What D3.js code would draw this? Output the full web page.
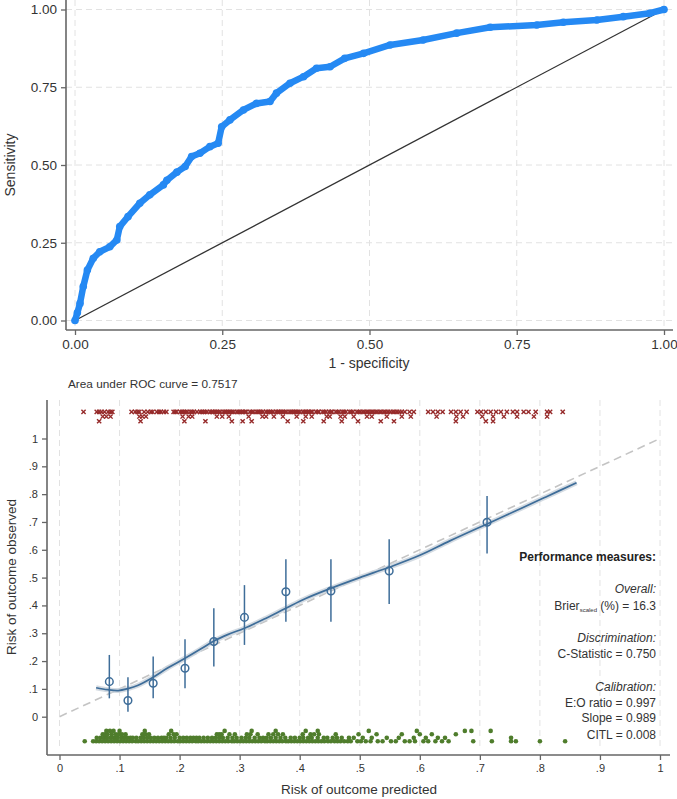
<!DOCTYPE html>
<html><head><meta charset="utf-8">
<script src="https://cdn.jsdelivr.net/npm/d3@7"></script>
<style>
body{margin:0;background:#fff;}
svg{display:block;font-family:"Liberation Sans",Arial,Helvetica,sans-serif;}
</style></head>
<body>
<svg id="c" width="677" height="799"></svg>
<script>
// ---------- DATA ----------
const rocTicks = [0, 0.25, 0.5, 0.75, 1];
const rocFpr = [0,0.004,0.0085,0.014,0.021,0.031,0.042,0.059,0.071,0.076,0.09,0.11,0.127,0.15,0.156,0.173,0.187,0.198,0.212,0.229,0.243,0.249,0.263,0.286,0.308,0.331,0.342,0.365,0.388,0.41,0.433,0.458,0.49,0.535,0.591,0.648,0.705,0.784,0.829,0.886,0.931,0.976,1];
const rocTpr = [0,0.025,0.055,0.109,0.162,0.2,0.221,0.237,0.259,0.302,0.334,0.377,0.404,0.436,0.451,0.477,0.495,0.527,0.538,0.559,0.57,0.623,0.645,0.677,0.698,0.704,0.731,0.763,0.784,0.811,0.816,0.843,0.859,0.886,0.902,0.924,0.943,0.95,0.959,0.966,0.977,0.988,1];
const aucLabel = "Area under ROC curve = 0.7517";

const calTicks = [0,0.1,0.2,0.3,0.4,0.5,0.6,0.7,0.8,0.9,1];
// grouped observed vs predicted with 95% CI
const grpPred = [0.083,0.114,0.156,0.209,0.257,0.308,0.377,0.452,0.549,0.712];
const grpObs  = [0.126,0.058,0.12,0.174,0.27,0.357,0.449,0.452,0.524,0.699];
const grpLo   = [0.066,0.018,0.066,0.102,0.18,0.258,0.341,0.341,0.405,0.587];
const grpHi   = [0.222,0.142,0.216,0.278,0.39,0.473,0.566,0.566,0.638,0.793];
// lowess smoother
const lowX = [0.061,0.08,0.098,0.114,0.13,0.156,0.18,0.209,0.235,0.257,0.28,0.308,0.34,0.377,0.41,0.45,0.5,0.55,0.6,0.65,0.712,0.76,0.81,0.861];
const lowY = [0.104,0.097,0.094,0.101,0.112,0.142,0.175,0.21,0.243,0.272,0.295,0.318,0.35,0.39,0.425,0.46,0.5,0.538,0.58,0.632,0.693,0.74,0.79,0.841];
// events (outcome = 1) predicted risk, by jitter row
const eventsRowA = [0.040,0.062,0.066,0.070,0.075,0.081,0.085,0.088,0.120,0.126,0.130,0.133,0.141,0.147,0.152,0.155,0.162,0.166,0.169,0.174,0.178,0.190,0.193,0.195,0.201,0.204,0.207,0.210,0.213,0.218,0.221,0.224,0.229,0.234,0.237,0.240,0.243,0.246,0.251,0.254,0.256,0.259,0.262,0.265,0.268,0.273,0.276,0.278,0.281,0.284,0.287,0.290,0.295,0.298,0.300,0.303,0.306,0.309,0.311,0.317,0.320,0.323,0.328,0.331,0.333,0.336,0.339,0.344,0.347,0.350,0.353,0.356,0.361,0.364,0.366,0.369,0.372,0.375,0.378,0.383,0.386,0.388,0.391,0.394,0.397,0.400,0.405,0.408,0.410,0.413,0.416,0.419,0.421,0.427,0.430,0.432,0.438,0.441,0.444,0.449,0.452,0.454,0.460,0.463,0.466,0.471,0.474,0.477,0.483,0.486,0.489,0.495,0.498,0.501,0.505,0.508,0.512,0.515,0.519,0.522,0.526,0.529,0.533,0.536,0.540,0.543,0.547,0.551,0.555,0.558,0.562,0.566,0.570,0.575,0.583,0.590,0.614,0.622,0.630,0.638,0.652,0.660,0.668,0.678,0.696,0.702,0.710,0.718,0.727,0.735,0.745,0.755,0.762,0.773,0.781,0.793,0.812,0.817,0.838];
const eventsRowB = [0.072,0.078,0.085,0.133,0.138,0.144,0.205,0.215,0.221,0.262,0.271,0.282,0.315,0.338,0.344,0.357,0.372,0.395,0.410,0.420,0.445,0.450,0.468,0.475,0.490,0.512,0.520,0.545,0.570,0.585,0.628,0.661,0.672,0.704,0.722,0.740,0.762,0.790,0.812];
const eventsRowC = [0.066,0.135,0.208,0.243,0.287,0.305,0.320,0.380,0.406,0.440,0.470,0.497,0.535,0.557,0.660,0.710,0.722];
const eventsRowY = [1.096,1.079,1.062];
// non-events (outcome = 0) predicted risk, by jitter row
const nonRowA = [0.042,0.056,0.061,0.066,0.071,0.076,0.081,0.086,0.091,0.096,0.101,0.106,0.111,0.116,0.121,0.127,0.131,0.136,0.141,0.146,0.151,0.156,0.161,0.166,0.171,0.176,0.181,0.186,0.191,0.197,0.201,0.206,0.211,0.216,0.221,0.227,0.231,0.236,0.241,0.246,0.251,0.256,0.261,0.266,0.271,0.276,0.281,0.287,0.291,0.296,0.301,0.306,0.311,0.316,0.321,0.326,0.331,0.336,0.342,0.346,0.351,0.356,0.361,0.366,0.371,0.377,0.381,0.386,0.391,0.396,0.401,0.406,0.411,0.416,0.421,0.426,0.431,0.436,0.441,0.447,0.452,0.458,0.463,0.468,0.474,0.480,0.485,0.496,0.502,0.510,0.518,0.530,0.538,0.552,0.560,0.575,0.583,0.592,0.606,0.614,0.626,0.637,0.648,0.689,0.720,0.752,0.760,0.800,0.842];
const nonRowB = [0.062,0.068,0.074,0.079,0.085,0.090,0.094,0.097,0.103,0.108,0.113,0.118,0.122,0.128,0.135,0.140,0.146,0.152,0.158,0.164,0.170,0.174,0.178,0.185,0.192,0.200,0.206,0.212,0.218,0.223,0.228,0.233,0.240,0.247,0.254,0.260,0.266,0.272,0.280,0.288,0.295,0.303,0.310,0.316,0.325,0.333,0.339,0.345,0.352,0.360,0.368,0.376,0.385,0.392,0.400,0.406,0.414,0.420,0.430,0.440,0.446,0.455,0.462,0.470,0.482,0.490,0.505,0.520,0.545,0.565,0.590,0.610,0.630,0.642,0.752];
const nonRowC = [0.072,0.076,0.080,0.087,0.094,0.099,0.104,0.110,0.138,0.143,0.149,0.182,0.190,0.195,0.262,0.266,0.270,0.283,0.292,0.312,0.318,0.330,0.348,0.356,0.364,0.372,0.405,0.418,0.424,0.432,0.460,0.498,0.528,0.570,0.600,0.620,0.660];
const nonRowD = [0.078,0.084,0.090,0.100,0.142,0.186,0.275,0.320,0.360,0.410,0.430,0.515,0.595,0.675,0.686,0.718];
const nonRowY = [-0.088,-0.076,-0.063,-0.051];

const perfTitle = "Performance measures:";
const perfLines = [
  {t:"Overall:", it:true},
  {t:"BRIER", it:false},
  {t:"Discrimination:", it:true},
  {t:"C-Statistic = 0.750", it:false},
  {t:"Calibration:", it:true},
  {t:"E:O ratio = 0.997", it:false},
  {t:"Slope = 0.989", it:false},
  {t:"CITL = 0.008", it:false}
];
const brierValue = "16.3";

// ---------- DRAW ----------
const svg = d3.select("#c");
const axisCol = "#666", txtCol = "#333", gridCol = "#e2e2e2";

// ===== TOP: ROC =====
const xT = d3.scaleLinear().domain([0,1]).range([75,664]);
const yT = d3.scaleLinear().domain([0,1]).range([320.5,9.5]);
const gTop = svg.append("g");
gTop.selectAll(".hg").data(rocTicks).join("line")
  .attr("x1",66).attr("x2",673).attr("y1",d=>yT(d)).attr("y2",d=>yT(d))
  .attr("stroke",gridCol).attr("stroke-width",1).attr("stroke-dasharray","6,4");
gTop.selectAll(".vg").data(rocTicks).join("line")
  .attr("y1",0).attr("y2",330).attr("x1",d=>xT(d)).attr("x2",d=>xT(d))
  .attr("stroke",gridCol).attr("stroke-width",1).attr("stroke-dasharray","6,4");
const fmt2 = d3.format(".2f");
const yAxT = gTop.append("g").attr("transform","translate(66,0)")
  .call(d3.axisLeft(yT).tickValues(rocTicks).tickFormat(fmt2).tickSize(5).tickPadding(4));
const xAxT = gTop.append("g").attr("transform","translate(0,330)")
  .call(d3.axisBottom(xT).tickValues(rocTicks).tickFormat(fmt2).tickSize(5).tickPadding(4));
[yAxT,xAxT].forEach(a=>{
  a.select(".domain").remove();
  a.selectAll("line").attr("stroke",axisCol).attr("stroke-width",1.3);
  a.selectAll("text").attr("fill",txtCol).style("font-size","13.5px");
});
gTop.append("line").attr("x1",66).attr("x2",66).attr("y1",0).attr("y2",330).attr("stroke",axisCol).attr("stroke-width",1.6);
gTop.append("line").attr("x1",66).attr("x2",673).attr("y1",330).attr("y2",330).attr("stroke",axisCol).attr("stroke-width",1.6);
gTop.append("line").attr("x1",xT(0)).attr("y1",yT(0)).attr("x2",xT(1)).attr("y2",yT(1))
  .attr("stroke","#333").attr("stroke-width",1.3);
const rocPts = rocFpr.map((f,i)=>[f,rocTpr[i]]);
gTop.append("path").datum(rocPts)
  .attr("d",d3.line().x(d=>xT(d[0])).y(d=>yT(d[1])))
  .attr("fill","none").attr("stroke","#2589f3").attr("stroke-width",6.5)
  .attr("stroke-linejoin","round").attr("stroke-linecap","round");
gTop.selectAll(".rp").data(rocPts).join("circle")
  .attr("cx",d=>xT(d[0])).attr("cy",d=>yT(d[1])).attr("r",3.8).attr("fill","#2589f3");
gTop.append("text").attr("x",369).attr("y",368).attr("text-anchor","middle")
  .attr("fill",txtCol).style("font-size","14px").text("1 - specificity");
gTop.append("text").attr("transform","translate(15,165) rotate(-90)").attr("text-anchor","middle")
  .attr("fill",txtCol).style("font-size","14px").text("Sensitivity");
svg.append("text").attr("x",68).attr("y",388).attr("fill",txtCol).style("font-size","11.8px").text(aucLabel);

// ===== BOTTOM: calibration =====
const xB = d3.scaleLinear().domain([0,1]).range([59.5,660]);
const yB = d3.scaleLinear().domain([0,1]).range([716.7,438.5]);
const gBot = svg.append("g");
gBot.selectAll(".vg").data(calTicks).join("line")
  .attr("y1",400).attr("y2",750).attr("x1",d=>xB(d)).attr("x2",d=>xB(d))
  .attr("stroke",gridCol).attr("stroke-width",1).attr("stroke-dasharray","6,4");
const fmtB = d=> d===0?"0":(d===1?"1":d3.format(".1f")(d).replace(/^0/,""));
const yAxB = gBot.append("g").attr("transform","translate(47,0)")
  .call(d3.axisLeft(yB).tickValues(calTicks).tickFormat(fmtB).tickSize(5).tickPadding(4));
const xAxB = gBot.append("g").attr("transform","translate(0,755)")
  .call(d3.axisBottom(xB).tickValues(calTicks).tickFormat(fmtB).tickSize(5).tickPadding(4));
[yAxB,xAxB].forEach(a=>{
  a.select(".domain").remove();
  a.selectAll("line").attr("stroke",axisCol).attr("stroke-width",1.3);
  a.selectAll("text").attr("fill",txtCol).style("font-size","11px");
});
gBot.append("line").attr("x1",47).attr("x2",47).attr("y1",400).attr("y2",755).attr("stroke",axisCol).attr("stroke-width",1.6);
gBot.append("line").attr("x1",47).attr("x2",670).attr("y1",755).attr("y2",755).attr("stroke",axisCol).attr("stroke-width",1.6);
gBot.append("line").attr("x1",xB(0)).attr("y1",yB(0)).attr("x2",xB(1)).attr("y2",yB(1))
  .attr("stroke","#c4c4c4").attr("stroke-width",1.6).attr("stroke-dasharray","8,5");
const lowPts = lowX.map((x,i)=>[x,lowY[i]]);
const lineB = d3.line().x(d=>xB(d[0])).y(d=>yB(d[1])).curve(d3.curveCatmullRom);
gBot.append("path").datum(lowPts).attr("d",lineB).attr("fill","none")
  .attr("stroke","#c9d2db").attr("stroke-width",5).attr("stroke-opacity",0.8);
gBot.append("path").datum(lowPts).attr("d",lineB).attr("fill","none")
  .attr("stroke","#3e6d99").attr("stroke-width",1.7);
const blue = "#3e6d99";
gBot.selectAll(".ci").data(grpPred).join("line")
  .attr("x1",d=>xB(d)).attr("x2",d=>xB(d))
  .attr("y1",(d,i)=>yB(grpLo[i])).attr("y2",(d,i)=>yB(grpHi[i]))
  .attr("stroke",blue).attr("stroke-width",1.5);
gBot.selectAll(".gp").data(grpPred).join("circle")
  .attr("cx",d=>xB(d)).attr("cy",(d,i)=>yB(grpObs[i])).attr("r",3.8)
  .attr("fill","none").attr("stroke",blue).attr("stroke-width",1.5);
const red = "#962a2a";
const evPts = [];
[eventsRowA,eventsRowB,eventsRowC].forEach((row,k)=>row.forEach(x=>evPts.push([x,eventsRowY[k]])));
const s = 2.1;
gBot.selectAll(".ev").data(evPts).join("path")
  .attr("d",d=>{const cx=xB(d[0]),cy=yB(d[1]);return `M${cx-s},${cy-s}L${cx+s},${cy+s}M${cx-s},${cy+s}L${cx+s},${cy-s}`;})
  .attr("stroke",red).attr("stroke-width",1.4).attr("fill","none");
const green = "#4f7d2c";
const nePts = [];
[nonRowA,nonRowB,nonRowC,nonRowD].forEach((row,k)=>row.forEach(x=>nePts.push([x,nonRowY[k]])));
gBot.selectAll(".ne").data(nePts).join("circle")
  .attr("cx",d=>xB(d[0])).attr("cy",d=>yB(d[1])).attr("r",2.3).attr("fill",green);
gBot.append("text").attr("x",359).attr("y",794).attr("text-anchor","middle")
  .attr("fill",txtCol).style("font-size","13.5px").text("Risk of outcome predicted");
gBot.append("text").attr("transform","translate(16,577) rotate(-90)").attr("text-anchor","middle")
  .attr("fill",txtCol).style("font-size","13.5px").text("Risk of outcome observed");
const px = 656;
gBot.append("text").attr("x",px).attr("y",561).attr("text-anchor","end").attr("fill","#222")
  .style("font-size","12px").style("font-weight","bold").text(perfTitle);
const perfY = [593,610,642,658,691,707,722,739];
perfLines.forEach((l,i)=>{
  const t = gBot.append("text").attr("x",px).attr("y",perfY[i]).attr("text-anchor","end")
    .attr("fill",txtCol).style("font-size","12px");
  if(l.it) t.style("font-style","italic");
  if(l.t==="BRIER"){
    t.append("tspan").text("Brier");
    t.append("tspan").attr("dy",2).style("font-size","6px").text("scaled");
    t.append("tspan").attr("dy",-2).text(" (%) =  " + brierValue);
  } else t.text(l.t);
});
</script>
</body></html>
